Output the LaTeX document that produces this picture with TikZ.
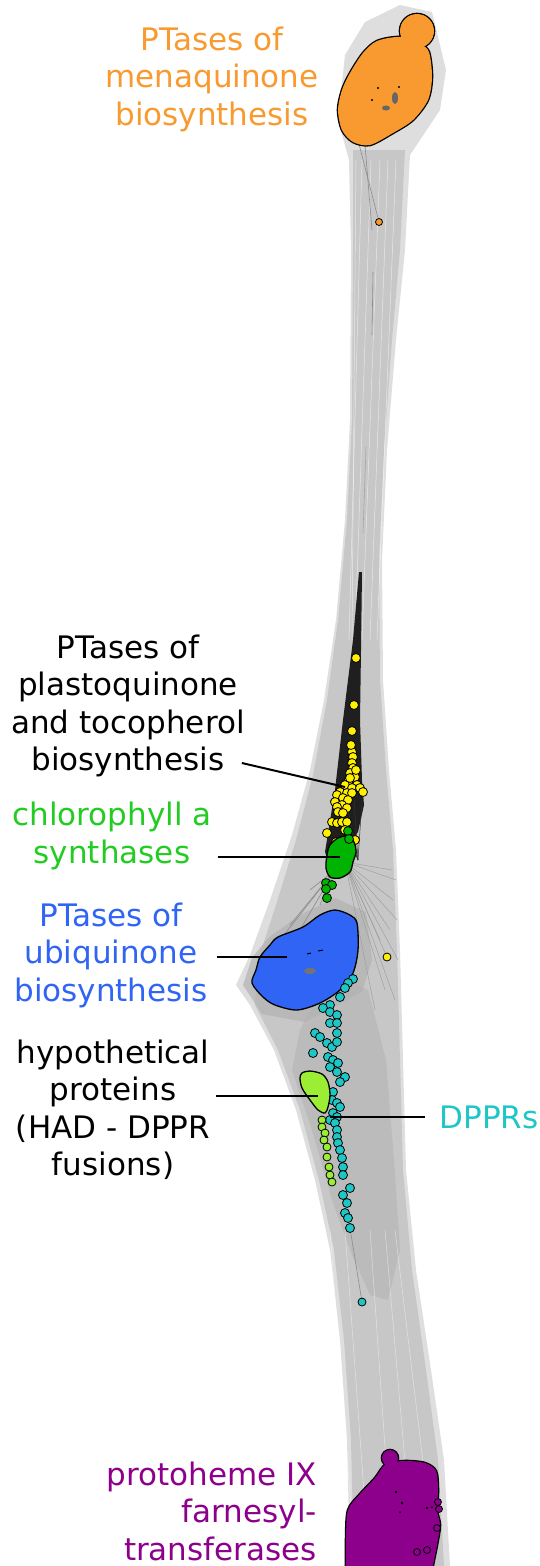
\documentclass[tikz,border=0pt]{standalone}
\usepackage{fontspec}
\setmainfont{DejaVu Sans}
\definecolor{mkorange}{HTML}{F89A2F}
\definecolor{pqyellow}{HTML}{FFF000}
\definecolor{chlgreen}{HTML}{00B300}
\definecolor{chllabel}{HTML}{22CC22}
\definecolor{ubiblue}{HTML}{3064F4}
\definecolor{hadgreen}{HTML}{9BEE33}
\definecolor{dpprcyan}{HTML}{1EC6C6}
\definecolor{pfpurple}{HTML}{8C008C}
\begin{document}
\begin{tikzpicture}[x=1pt,y=-1pt,
  lbl/.style={font=\fontsize{31}{37.5}\selectfont,align=center,inner sep=0pt},
  lead/.style={line width=2pt},
  blob/.style={draw=black,line width=2.6pt},
  dot/.style={draw=black,line width=0.8pt},
  edge/.style={black!45,line width=0.6pt}]
  \useasboundingbox (0,0) rectangle (540,1566);
  % similarity edges, drawn as shaded bands
  \fill[black!13] (338,120) -- (345,55) -- (365,22) -- (400,5) -- (432,12)
    -- (446,70) -- (440,110) -- (410,155) -- (405,250) -- (396,340)
    -- (387,450) -- (382,560) -- (383,680) -- (389,770) -- (396,850)
    -- (400,950) -- (403,1060) -- (406,1170) -- (416,1270) -- (431,1370)
    -- (444,1460) -- (450,1566) -- (350,1566) -- (347,1440) -- (340,1340)
    -- (330,1250) -- (315,1180) -- (296,1110) -- (274,1050) -- (250,1005)
    -- (236,985) -- (250,955) -- (270,900) -- (292,835) -- (310,770)
    -- (324,700) -- (336,620) -- (345,520) -- (350,420) -- (351,250)
    -- (349,160) -- cycle;
  \fill[black!22] (353,150) -- (405,150) -- (400,250) -- (392,340)
    -- (384,450) -- (379,560) -- (380,680) -- (386,770) -- (393,850)
    -- (397,950) -- (400,1060) -- (403,1170) -- (412,1270) -- (426,1370)
    -- (438,1460) -- (444,1566) -- (354,1566) -- (351,1440) -- (344,1340)
    -- (334,1250) -- (319,1180) -- (300,1110) -- (278,1050) -- (255,1005)
    -- (258,960) -- (276,905) -- (296,840) -- (313,775) -- (327,700)
    -- (338,620) -- (347,520) -- (352,420) -- (353,250) -- cycle;
  \fill[black!32,opacity=.45] (318,995) -- (345,980) -- (368,990)
    -- (386,1060) -- (394,1160) -- (400,1250) -- (388,1300) -- (370,1295)
    -- (352,1255) -- (332,1200) -- (312,1130) -- (292,1070) -- (300,1030)
    -- cycle;
  \fill[black!30,opacity=.7] (243,985) -- (252,958) -- (268,938) -- (300,915)
    -- (335,898) -- (366,912) -- (372,960) -- (362,992) -- (305,1022)
    -- (262,1014) -- cycle;
  \foreach \a/\b in {356/352,362/349,371/355,380/362,388/370,396/377}
    \draw[white,line width=0.5pt,opacity=.6] (\a,160) -- (\b,640);
  \foreach \a/\b in {330/352,345/366,370/390,385/410,395/430}
    \draw[white,line width=0.5pt,opacity=.5] (\a,1230) -- (\b,1520);
  \draw[edge] (373,272) -- (372,335);
  \draw[black!35,line width=0.6pt] (366,447) -- (363,533);
  \foreach \a/\b in {393/900,387/957,395/1000,390/930,396/880,398/960,
      392/870,385/990,380/940,375/1010,397/920}
    \draw[black!40,line width=0.4pt] (345,862) -- (\a,\b);
  \foreach \a/\b in {300/930,290/925,320/905,310/890,280/940}
    \draw[edge] (335,870) -- (\a,\b);
  \draw[edge] (350,1228) -- (362,1302);
  \draw[edge] (358,140) -- (379,222);
  \draw[edge] (365,145) -- (372,230);
  % black wedge of edges into the yellow cluster
  \fill[black!88] (359,572) -- (362,572) -- (361,650) -- (360,720)
    -- (362,780) -- (364,805) -- (358,832) -- (345,848) -- (329,864)
    -- (325,852) -- (335,790) -- (343,720) -- (353,640) -- cycle;
  \foreach \a in {330,338,346,354,362}
    \draw[black!80,line width=0.5pt] (\a,800) -- (358,860);
  % menaquinone cluster
  \draw[blob] (417,31) circle (17pt);
  \draw[blob] plot[smooth cycle] coordinates {(363,53) (377,41)
    (400,37) (420,44) (429,52) (432,77) (428,100) (413,120) (393,133)
    (370,145) (353,142) (342,130) (338,110) (342,90) (350,73)};
  \fill[mkorange] (417,31) circle (17pt);
  \fill[mkorange] plot[smooth cycle] coordinates {(363,53) (377,41)
    (400,37) (420,44) (429,52) (432,77) (428,100) (413,120) (393,133)
    (370,145) (353,142) (342,130) (338,110) (342,90) (350,73)};
  \fill[black!60] (395,98) ellipse (3pt and 6pt);
  \fill[black!60] (386,108) ellipse (4pt and 2.5pt);
  \fill[black] (372,100) circle (1.2pt) (378,88) circle (1.2pt)
    (399,87) circle (1.2pt);
  \draw[dot,fill=mkorange] (379,222) circle (3.5pt);
  % plastoquinone / tocopherol cluster
  \foreach \x/\y in {356/658,354/705,352/731,352/752,353/757,352/763,
      353/768,350/773,355/777,348/782,345/785,357/785,352/788,360/788,
      363/792,340/792,347/793,352/793,337/795,343/798,348/800,335/802,
      342/805,337/807,347/808,338/812,343/813,332/822,337/823,342/822,
      347/822,327/833,336/842,355/840,345/830,350/778,356/770,351/745}
    \draw[dot,fill=pqyellow] (\x,\y) circle (4.5pt);
  % chlorophyll a synthases
  \draw[blob,line width=1.3pt,fill=chlgreen] plot[smooth cycle] coordinates
    {(330,845) (338,838) (348,836) (354,842) (356,852) (353,862) (350,872)
    (340,878) (330,877) (326,868) (327,855)};
  \foreach \x/\y in {348/831,349/839,326/883,332/885,326/889,327/898}
    \draw[dot,fill=chlgreen] (\x,\y) circle (4.5pt);
  \draw[dot,fill=pqyellow] (387,957) circle (4pt);
  % ubiquinone cluster
  \draw[blob,line width=1.3pt,fill=ubiblue] plot[smooth cycle] coordinates
    {(335,910) (350,915) (357,923) (358,950) (353,973) (340,990) (320,1003)
    (297,1010) (275,1005) (263,997) (252,983) (256,970) (260,957) (270,945)
    (278,937) (303,927) (320,915)};
  \fill[black!55] (310,971) ellipse (6pt and 3pt);
  \draw[black,line width=1pt] (307,954) -- (311,953) (318,951) -- (323,950);
  % DPPRs
  \foreach \x/\y in {353/979,348/983,345/988,340/997,330/1005,323/1008,
      330/1012,337/1015,330/1023,337/1023,315/1033,320/1037,337/1033,
      327/1043,332/1047,337/1042,313/1053,328/1057,333/1060,330/1067,
      338/1063,337/1072,345/1077,340/1082,333/1092,332/1100,337/1103,
      340/1107,333/1113,337/1117,330/1120,335/1123,337/1130,337/1137,
      338/1143,340/1150,342/1158,343/1167,343/1175,350/1188,343/1195,
      347/1203,345/1213,348/1218,350/1228}
    \draw[dot,fill=dpprcyan] (\x,\y) circle (4.5pt);
  \draw[dot,fill=dpprcyan] (362,1302) circle (4pt);
  % HAD - DPPR fusions
  \draw[blob,line width=1.3pt,fill=hadgreen] plot[smooth cycle] coordinates
    {(302,1073) (310,1071) (322,1074) (328,1082) (330,1095) (328,1107)
    (325,1113) (318,1110) (310,1100) (302,1088) (300,1078)};
  \foreach \x/\y in {322/1120,322/1127,325/1133,324/1140,327/1147,
      327/1157,329/1167,330/1175,332/1182}
    \draw[dot,fill=hadgreen] (\x,\y) circle (4pt);
  % protoheme IX farnesyltransferases
  \draw[blob] (390,1458) circle (8pt);
  \draw[blob] plot[smooth] coordinates {(346,1570)
    (346,1540) (348,1510) (360,1494) (375,1478) (386,1464) (405,1461)
    (425,1463) (436,1471) (438,1490) (437,1510) (440,1525) (437,1545)
    (432,1570)};
  \fill[pfpurple] (390,1458) circle (8pt);
  \fill[pfpurple] plot[smooth] coordinates {(346,1570)
    (346,1540) (348,1510) (360,1494) (375,1478) (386,1464) (405,1461)
    (425,1463) (436,1471) (438,1490) (437,1510) (440,1525) (437,1545)
    (432,1570)};
  \foreach \x/\y in {438/1502,439/1509,437/1528,427/1550,417/1552}
    \draw[dot,fill=pfpurple] (\x,\y) circle (3.5pt);
  \fill[black] (396,1492) circle (1.3pt) (402,1503) circle (1.3pt)
    (400,1512) circle (1pt) (427,1508) circle (1.3pt) (432,1507) circle (1pt);
  % labels
  \node[lbl,text=mkorange] (mklbl) at (212,79)
    {PTases of\\menaquinone\\biosynthesis};
  \node[lbl] (pqlbl) at (128,706)
    {PTases of\\plastoquinone\\and tocopherol\\biosynthesis};
  \node[lbl,text=chllabel] (chllbl) at (112,836) {chlorophyll a\\synthases};
  \node[lbl,text=ubiblue] (ubilbl) at (111,955)
    {PTases of\\ubiquinone\\biosynthesis};
  \node[lbl] (hadlbl) at (113,1110)
    {hypothetical\\proteins\\(HAD - DPPR\\fusions)};
  \node[lbl,text=dpprcyan] (dpprlbl) at (489,1117) {DPPRs};
  \node[lbl,text=pfpurple,align=right,anchor=east] (pflbl) at (317,1511)
    {protoheme IX\\farnesyl-\\transferases};
  % leader lines
  \coordinate (pqend) at (345,787);
  \coordinate (chlend) at (340,857);
  \coordinate (ubiend) at (287,957);
  \coordinate (hadend) at (318,1096);
  \coordinate (dpprend) at (330,1117);
  \draw[lead] ([xshift=-3pt,yshift=-57pt]pqlbl.east) -- (pqend);
  \draw[lead] ([xshift=6pt]chllbl.east |- chlend) -- (chlend);
  \draw[lead] ([xshift=9pt]ubilbl.east |- ubiend) -- (ubiend);
  \draw[lead] ([xshift=6pt]hadlbl.east |- hadend) -- (hadend);
  \draw[lead] (dpprend) -- ([xshift=-14pt]dpprlbl.west);
\end{tikzpicture}
\end{document}
